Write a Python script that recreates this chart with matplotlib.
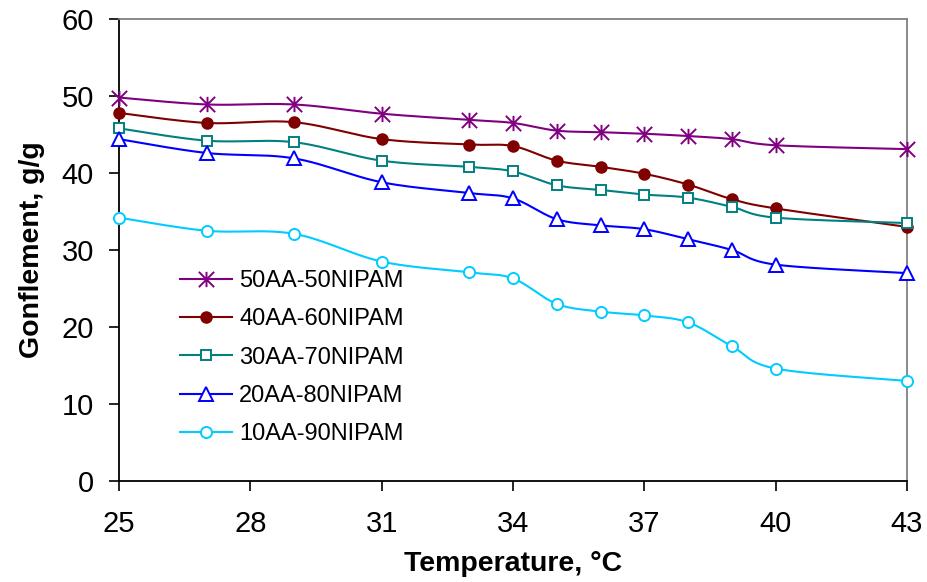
import numpy as np
import matplotlib
matplotlib.use('Agg')
import matplotlib.pyplot as plt
from matplotlib.path import Path
from matplotlib.lines import Line2D

# ---- data ----
temperature = [25, 27, 29, 31, 33, 34, 35, 36, 37, 38, 39, 40, 43]
s50 = [49.8, 48.9, 48.9, 47.7, 46.9, 46.5, 45.5, 45.3, 45.1, 44.8, 44.4, 43.6, 43.1]
s40 = [47.8, 46.5, 46.6, 44.4, 43.7, 43.5, 41.6, 40.8, 39.9, 38.5, 36.6, 35.4, 33.0]
s30 = [45.8, 44.2, 44.0, 41.6, 40.8, 40.2, 38.4, 37.8, 37.2, 36.8, 35.6, 34.2, 33.5]
s20 = [44.4, 42.6, 41.9, 38.8, 37.4, 36.7, 34.0, 33.2, 32.7, 31.4, 30.0, 28.1, 27.0]
s10 = [34.2, 32.5, 32.1, 28.5, 27.1, 26.3, 23.0, 22.0, 21.5, 20.6, 17.5, 14.6, 13.0]
labels = ['50AA-50NIPAM', '40AA-60NIPAM', '30AA-70NIPAM', '20AA-80NIPAM', '10AA-90NIPAM']
xticks = [25, 28, 31, 34, 37, 40, 43]
yticks = [0, 10, 20, 30, 40, 50, 60]

plt.rcParams['font.family'] = ['Liberation Sans', 'DejaVu Sans']

star = Path([(0, -1), (0, 1), (-1, -1), (1, 1), (-1, 1), (1, -1)],
            [Path.MOVETO, Path.LINETO, Path.MOVETO, Path.LINETO, Path.MOVETO, Path.LINETO])

styles = [
    dict(color='#800080', marker=star, ms=11, mfc='none', mew=1.4),
    dict(color='#800000', marker='o', ms=8, mfc='#800000', mew=1.0),
    dict(color='#008080', marker='s', ms=7, mfc='white', mew=1.4),
    dict(color='#0000FF', marker='^', ms=9.5, mfc='white', mew=1.4),
    dict(color='#00CCFF', marker='o', ms=8, mfc='white', mew=1.4),
]


def smooth(x, y, n=25):
    P = np.column_stack([x, y]).astype(float)
    E = np.vstack([P[0], P, P[-1]])
    pts = []
    for i in range(len(P) - 1):
        p0, p1, p2, p3 = E[i], E[i + 1], E[i + 2], E[i + 3]
        c1 = p1 + (p2 - p0) / 6.0
        c2 = p2 - (p3 - p1) / 6.0
        t = np.linspace(0, 1, n)[:, None]
        B = ((1 - t) ** 3) * p1 + 3 * ((1 - t) ** 2) * t * c1 + 3 * (1 - t) * t ** 2 * c2 + t ** 3 * p2
        pts.append(B if i == 0 else B[1:])
    pts = np.vstack(pts)
    return pts[:, 0], pts[:, 1]


fig = plt.figure(figsize=(9.27, 5.82), dpi=100)
ax = fig.add_axes([119 / 927, 1 - 481 / 582, (907 - 119) / 927, (481 - 19) / 582])

series = [s50, s40, s30, s20, s10]
handles = []
for s, st, lab in zip(series, styles, labels):
    xs, ys = smooth(temperature, s)
    ax.plot(xs, ys, color=st['color'], lw=1.5, zorder=2, clip_on=False)
    ax.plot(temperature, s, linestyle='none', marker=st['marker'], ms=st['ms'],
            mec=st['color'], mfc=st['mfc'], mew=st['mew'], zorder=3, clip_on=False)
    handles.append(Line2D([], [], color=st['color'], lw=1.5, marker=st['marker'], ms=st['ms'],
                          mec=st['color'], mfc=st['mfc'], mew=st['mew']))

ax.set_xlim(25, 43)
ax.set_ylim(0, 60)
ax.set_xticks(xticks)
ax.set_yticks(yticks)
ax.tick_params(axis='both', direction='out', length=7, width=1.2, labelsize=21, colors='black')
ax.tick_params(axis='y', pad=11)
ax.tick_params(axis='x', pad=14)
for side in ['left', 'bottom']:
    ax.spines[side].set_color('black')
    ax.spines[side].set_linewidth(1.3)
for side in ['top', 'right']:
    ax.spines[side].set_color('#808080')
    ax.spines[side].set_linewidth(1.3)

ax.set_xlabel('Temperature, °C', fontsize=20.5, fontweight='bold', labelpad=9)
ax.set_ylabel('Gonflement, g/g', fontsize=20.5, fontweight='bold', labelpad=12)

leg = ax.legend(handles, labels, loc='upper left',
                bbox_to_anchor=(180 / 927, 1 - 270 / 582), bbox_transform=fig.transFigure,
                frameon=False, fontsize=17, handlelength=2.2, handletextpad=0.3,
                labelspacing=0.69, borderpad=0, borderaxespad=0)

fig.savefig('out.png', dpi=100)
